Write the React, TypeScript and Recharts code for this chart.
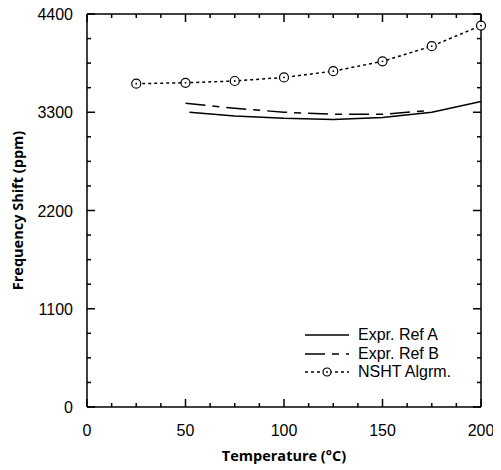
import { LineChart, Line, XAxis, YAxis, Legend } from "recharts";

const tempNSHT = [25, 50, 75, 100, 125, 150, 175, 200];
const nshtShift = [3620, 3630, 3650, 3690, 3760, 3870, 4040, 4270];

const tempRefA = [52, 75, 100, 125, 150, 175, 200];
const refAShift = [3300, 3258, 3232, 3220, 3240, 3300, 3420];

const tempRefB = [50, 75, 100, 125, 150, 172];
const refBShift = [3400, 3345, 3300, 3278, 3278, 3315];

const xTicks = [0, 12.5, 25, 37.5, 50, 62.5, 75, 87.5, 100, 112.5, 125, 137.5, 150, 162.5, 175, 187.5, 200];
const xMajor = [0, 50, 100, 150, 200];
const yTicks = [0, 275, 550, 825, 1100, 1375, 1650, 1925, 2200, 2475, 2750, 3025, 3300, 3575, 3850, 4125, 4400];
const yMajor = [0, 1100, 2200, 3300, 4400];

const nshtData = tempNSHT.map((t, i) => ({ t, v: nshtShift[i] }));
const refAData = tempRefA.map((t, i) => ({ t, v: refAShift[i] }));
const refBData = tempRefB.map((t, i) => ({ t, v: refBShift[i] }));

const W = 493;
const H = 462;
const M = { top: 5, right: 19, left: 0, bottom: 0 };
const Y_AXIS_W = 79;
const X_AXIS_H = 63;
// plot box size, used to mirror tick marks on the top and right edges
const PLOT_W = W - M.left - M.right - Y_AXIS_W - 1;
const PLOT_H = H - M.top - M.bottom - X_AXIS_H - 1;

const INK = "#000";
const tickFont = "Liberation Sans, Arial, sans-serif";
const titleFont = "Open Sans, Noto Sans, sans-serif";
const dashB = "20 7 7 7";
const dotted = "3 3";

function BottomTick(props: any) {
  const { x, y, payload } = props;
  const major = xMajor.includes(payload.value);
  const len = major ? 8 : 4;
  return (
    <g>
      <path d={`M${x},${y}v${-len}`} stroke={INK} strokeWidth={1.5} />
      <path d={`M${x},${y - PLOT_H}v${len}`} stroke={INK} strokeWidth={1.5} />
      {major && (
        <text x={x} y={y + 29} textAnchor="middle" fontSize={16} fontFamily={tickFont}>
          {payload.value}
        </text>
      )}
    </g>
  );
}

function LeftTick(props: any) {
  const { x, y, payload } = props;
  const major = yMajor.includes(payload.value);
  const len = major ? 8 : 4;
  return (
    <g>
      <path d={`M${x},${y}h${len}`} stroke={INK} strokeWidth={1.5} />
      <path d={`M${x + PLOT_W},${y}h${-len}`} stroke={INK} strokeWidth={1.5} />
      {major && (
        <text x={x - 14} y={y + 6} textAnchor="end" fontSize={16} fontFamily={tickFont}>
          {payload.value}
        </text>
      )}
    </g>
  );
}

function RingDot(props: any) {
  const { cx, cy } = props;
  return (
    <g>
      <circle cx={cx} cy={cy} r={4.5} fill="#fff" stroke={INK} strokeWidth={1.2} />
      <circle cx={cx} cy={cy} r={0.9} fill={INK} />
    </g>
  );
}

function XTitle(props: any) {
  const { viewBox } = props;
  return (
    <text
      x={viewBox.x + viewBox.width / 2}
      y={viewBox.y + 54}
      textAnchor="middle"
      fontSize={14.5}
      fontWeight={700}
      fontFamily={titleFont}
    >
      Temperature (°C)
    </text>
  );
}

function YTitle(props: any) {
  const { viewBox } = props;
  const x = viewBox.x + 15;
  const y = viewBox.y + viewBox.height / 2;
  return (
    <text
      x={x}
      y={y}
      transform={`rotate(-90, ${x}, ${y})`}
      textAnchor="middle"
      fontSize={14.5}
      fontWeight={700}
      fontFamily={titleFont}
    >
      Frequency Shift (ppm)
    </text>
  );
}

const legendRows = [
  { name: "Expr. Ref A", dash: undefined as string | undefined, ring: false },
  { name: "Expr. Ref B", dash: dashB, ring: false },
  { name: "NSHT Algrm.", dash: dotted, ring: true },
];

function renderLegend() {
  return (
    <div style={{ fontFamily: tickFont, fontSize: 16, color: INK, lineHeight: "18.5px" }}>
      {legendRows.map((r) => (
        <div key={r.name} style={{ display: "flex", alignItems: "center", height: 18.5 }}>
          <svg width={44} height={12} style={{ marginRight: 9 }}>
            <line x1={0} x2={44} y1={6} y2={6} stroke={INK} strokeWidth={1.5} strokeDasharray={r.dash} />
            {r.ring && (
              <g>
                <circle cx={22} cy={6} r={4} fill="#fff" stroke={INK} strokeWidth={1.2} />
                <circle cx={22} cy={6} r={0.9} fill={INK} />
              </g>
            )}
          </svg>
          <span>{r.name}</span>
        </div>
      ))}
    </div>
  );
}

export default function App() {
  return (
    <LineChart width={W} height={H} margin={M}>
      <XAxis
        dataKey="t"
        type="number"
        domain={[0, 200]}
        ticks={xTicks}
        interval={0}
        height={X_AXIS_H}
        tickSize={0}
        tickMargin={0}
        tickLine={false}
        axisLine={{ stroke: INK, strokeWidth: 1.5 }}
        tick={<BottomTick />}
        label={<XTitle />}
      />
      <XAxis
        xAxisId="top"
        orientation="top"
        type="number"
        domain={[0, 200]}
        height={1}
        tickLine={false}
        tick={false}
        axisLine={{ stroke: INK, strokeWidth: 1.5 }}
      />
      <YAxis
        type="number"
        domain={[0, 4400]}
        ticks={yTicks}
        interval={0}
        width={Y_AXIS_W}
        tickSize={0}
        tickMargin={0}
        tickLine={false}
        axisLine={{ stroke: INK, strokeWidth: 1.5 }}
        tick={<LeftTick />}
        label={<YTitle />}
      />
      <YAxis
        yAxisId="right"
        orientation="right"
        type="number"
        domain={[0, 4400]}
        width={1}
        tickLine={false}
        tick={false}
        axisLine={{ stroke: INK, strokeWidth: 1.5 }}
      />
      <Legend
        layout="vertical"
        align="center"
        verticalAlign="middle"
        wrapperStyle={{ left: 297, top: 318, width: 190 }}
        content={renderLegend}
      />
      <Line
        data={refAData}
        dataKey="v"
        name="Expr. Ref A"
        type="linear"
        stroke={INK}
        strokeWidth={1.5}
        dot={false}
        isAnimationActive={false}
      />
      <Line
        data={refBData}
        dataKey="v"
        name="Expr. Ref B"
        type="linear"
        stroke={INK}
        strokeWidth={1.5}
        strokeDasharray={dashB}
        dot={false}
        isAnimationActive={false}
      />
      <Line
        data={nshtData}
        dataKey="v"
        name="NSHT Algrm."
        type="linear"
        stroke={INK}
        strokeWidth={1.5}
        strokeDasharray={dotted}
        dot={<RingDot />}
        isAnimationActive={false}
      />
    </LineChart>
  );
}
